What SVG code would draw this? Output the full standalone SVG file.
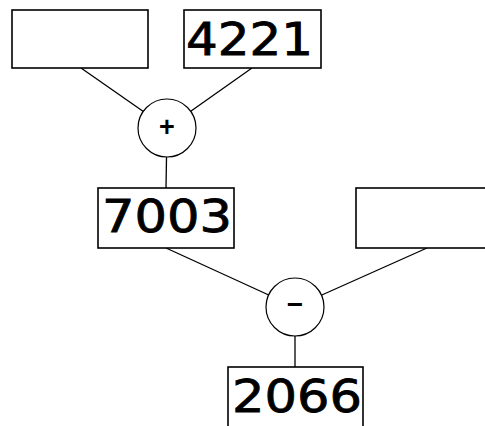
<svg xmlns="http://www.w3.org/2000/svg" width="485" height="426" viewBox="0 0 485 426">
<style>
.box{fill:#fff;stroke:#000;stroke-width:1.6}
.op{fill:#fff;stroke:#000;stroke-width:1.2}
.conn{stroke:#000;stroke-width:1.3;fill:none}
.num{font-family:"DejaVu Sans","Liberation Sans",sans-serif;font-size:44px;fill:#000;stroke:#000;stroke-width:0.8}
.sym{font-family:"Liberation Sans",Arial,sans-serif;font-weight:bold;fill:#000;text-anchor:middle}
</style>
<rect width="485" height="426" fill="#fff"/>
<g id="connectors">
<line class="conn" x1="81" y1="68" x2="167" y2="128"/>
<line class="conn" x1="252" y1="68" x2="167" y2="128"/>
<line class="conn" x1="167" y1="128" x2="166" y2="188"/>
<line class="conn" x1="166" y1="248" x2="295" y2="307"/>
<line class="conn" x1="427" y1="248" x2="295" y2="307"/>
<line class="conn" x1="295" y1="307" x2="295" y2="367"/>
</g>
<g id="in1"><rect class="box" x="12" y="10" width="136" height="58"/></g>
<g id="in2"><rect class="box" x="184" y="10" width="137" height="58"/>
<text class="num" x="186" y="55" textLength="127" lengthAdjust="spacingAndGlyphs">4221</text></g>
<g id="plus"><circle class="op" cx="167" cy="128" r="29"/>
<text class="sym" x="167" y="136" font-size="27">+</text></g>
<g id="sum"><rect class="box" x="98" y="188" width="136" height="60"/>
<text class="num" x="102" y="232" textLength="130" lengthAdjust="spacingAndGlyphs">7003</text></g>
<g id="in3"><rect class="box" x="356" y="188" width="136" height="60"/></g>
<g id="minus"><circle class="op" cx="295" cy="307" r="29"/>
<text class="sym" x="295" y="314" font-size="28">−</text></g>
<g id="result"><rect class="box" x="228" y="367" width="135" height="62"/>
<text class="num" x="232" y="412" textLength="130" lengthAdjust="spacingAndGlyphs">2066</text></g>
</svg>
